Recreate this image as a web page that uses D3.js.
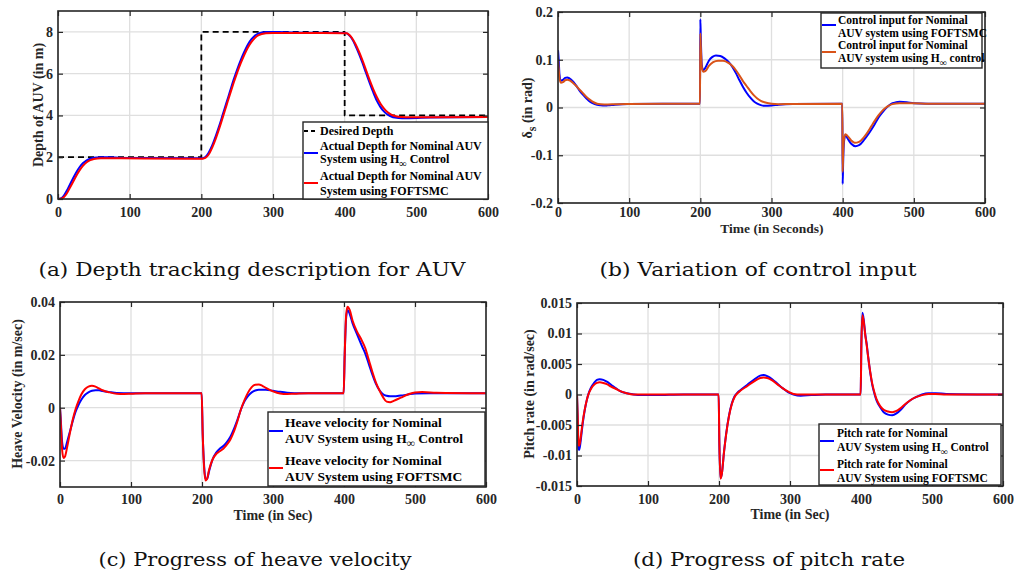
<!DOCTYPE html>
<html><head><meta charset="utf-8">
<script src="https://cdn.jsdelivr.net/npm/d3@7"></script>
<style>body{margin:0;background:#fff}svg{display:block}</style>
</head><body><svg id="c" width="1014" height="573"></svg>
<script>
// ---------- data ----------
const xTicks=[0,100,200,300,400,500,600];
const xTickLabels=["0","100","200","300","400","500","600"];

const depthTicks=[0,2,4,6,8];
const depthTickLabels=["0","2","4","6","8"];
const ctrlTicks=[-0.2,-0.1,0,0.1,0.2];
const ctrlTickLabels=["-0.2","-0.1","0","0.1","0.2"];
const heaveTicks=[-0.02,0,0.02,0.04];
const heaveTickLabels=["-0.02","0","0.02","0.04"];
const pitchTicks=[-0.015,-0.01,-0.005,0,0.005,0.01,0.015];
const pitchTickLabels=["-0.015","-0.01","-0.005","0","0.005","0.01","0.015"];

const desiredDepth=[[0,2],[200,2],[200,8],[400,8],[400,4],[600,4]];
const depthHinf=[[0,0],[4,0.03],[8,0.15],[12,0.38],[16,0.65],[20,0.92],[25,1.25],[30,1.52],[35,1.72],[40,1.85],[45,1.93],[50,1.97],[60,2.0],[70,2.0],[85,1.98],[120,1.96],[200,1.95],[203,1.96],[206,2.02],[210,2.2],[215,2.55],[220,3.0],[225,3.5],[230,4.05],[235,4.6],[240,5.15],[245,5.7],[250,6.2],[255,6.65],[260,7.05],[265,7.4],[270,7.65],[275,7.83],[280,7.93],[290,7.99],[300,8.0],[315,7.98],[350,7.96],[400,7.95],[403,7.93],[406,7.85],[410,7.68],[415,7.35],[420,6.95],[425,6.5],[430,6.02],[435,5.55],[440,5.1],[445,4.7],[450,4.4],[455,4.18],[460,4.04],[465,3.95],[470,3.9],[480,3.87],[490,3.87],[520,3.9],[600,3.92]];
const depthFoftsmc=[[0,0],[4,0.01],[8,0.08],[12,0.25],[16,0.5],[20,0.75],[25,1.08],[30,1.37],[35,1.6],[40,1.76],[45,1.86],[50,1.92],[60,1.95],[80,1.95],[120,1.94],[200,1.93],[203,1.94],[206,1.98],[210,2.12],[215,2.45],[220,2.88],[225,3.38],[230,3.92],[235,4.47],[240,5.02],[245,5.55],[250,6.05],[255,6.5],[260,6.9],[265,7.25],[270,7.52],[275,7.72],[280,7.84],[290,7.93],[300,7.95],[350,7.95],[400,7.94],[403,7.93],[406,7.87],[410,7.72],[415,7.42],[420,7.05],[425,6.62],[430,6.15],[435,5.68],[440,5.25],[445,4.87],[450,4.56],[455,4.33],[460,4.15],[465,4.04],[470,3.97],[480,3.92],[490,3.91],[520,3.91],[600,3.92]];

const ctrlFoftsmc=[[0,0.12],[1,0.1],[2,0.07],[4,0.056],[7,0.058],[10,0.062],[13,0.063],[16,0.061],[20,0.056],[25,0.047],[30,0.036],[35,0.027],[40,0.019],[45,0.012],[50,0.008],[55,0.0055],[60,0.0045],[65,0.004],[70,0.0045],[80,0.006],[100,0.0075],[150,0.008],[199.5,0.008],[200,0.185],[200.6,0.15],[202,0.09],[204,0.078],[207,0.083],[212,0.098],[217,0.106],[222,0.109],[228,0.108],[234,0.103],[240,0.095],[245,0.085],[250,0.072],[255,0.057],[260,0.043],[265,0.031],[270,0.021],[275,0.013],[280,0.008],[285,0.005],[290,0.0035],[300,0.004],[310,0.006],[330,0.0075],[399.5,0.008],[400,-0.16],[400.6,-0.12],[402,-0.07],[404,-0.058],[407,-0.065],[412,-0.076],[418,-0.081],[423,-0.079],[430,-0.068],[435,-0.058],[440,-0.047],[445,-0.035],[450,-0.022],[455,-0.012],[460,-0.003],[465,0.004],[470,0.009],[475,0.011],[480,0.012],[490,0.011],[500,0.009],[520,0.008],[600,0.008]];
const ctrlHinf=[[0,0.1],[1,0.08],[2,0.062],[4,0.052],[7,0.053],[10,0.057],[13,0.058],[16,0.057],[20,0.053],[25,0.046],[30,0.038],[35,0.03],[40,0.022],[45,0.016],[50,0.011],[55,0.008],[60,0.007],[70,0.0065],[80,0.007],[100,0.0075],[150,0.008],[199.5,0.008],[200,0.155],[200.6,0.13],[202,0.085],[204,0.075],[207,0.076],[212,0.087],[218,0.095],[225,0.098],[232,0.098],[240,0.093],[245,0.087],[250,0.078],[255,0.067],[260,0.055],[265,0.045],[270,0.035],[275,0.026],[280,0.019],[285,0.014],[290,0.011],[300,0.008],[310,0.007],[330,0.0075],[399.5,0.008],[400,-0.135],[400.6,-0.1],[402,-0.065],[404,-0.056],[407,-0.06],[412,-0.069],[417,-0.074],[423,-0.072],[430,-0.062],[435,-0.052],[440,-0.04],[445,-0.028],[450,-0.017],[455,-0.008],[460,-0.001],[465,0.004],[470,0.007],[480,0.009],[500,0.009],[520,0.008],[600,0.008]];

const heaveHinf=[[0,0],[1,-0.004],[2,-0.009],[3,-0.013],[5,-0.0155],[7,-0.0155],[10,-0.013],[14,-0.009],[18,-0.005],[22,-0.0015],[26,0.001],[30,0.003],[35,0.0048],[40,0.0058],[45,0.0064],[50,0.0066],[55,0.0066],[60,0.0063],[70,0.0059],[80,0.0056],[100,0.0055],[199.5,0.0055],[201,-0.01],[203,-0.022],[205,-0.027],[207,-0.027],[210,-0.024],[215,-0.0195],[220,-0.017],[225,-0.0155],[230,-0.0145],[235,-0.013],[240,-0.011],[245,-0.008],[250,-0.0045],[255,-0.0005],[260,0.0025],[265,0.0045],[270,0.0058],[275,0.0065],[280,0.0068],[290,0.0068],[300,0.0064],[310,0.006],[320,0.0057],[340,0.0055],[399.5,0.0055],[401,0.02],[403,0.034],[405,0.037],[408,0.0355],[412,0.032],[418,0.028],[425,0.0235],[430,0.0205],[435,0.0165],[440,0.0125],[445,0.009],[450,0.0066],[455,0.0051],[460,0.0045],[465,0.0043],[470,0.0043],[480,0.0046],[490,0.005],[500,0.0054],[520,0.0055],[600,0.0055]];
const heaveFoftsmc=[[0,0],[1,-0.005],[2,-0.011],[3,-0.016],[5,-0.019],[7,-0.0185],[10,-0.015],[14,-0.0095],[18,-0.0045],[22,-0.0005],[26,0.0025],[30,0.005],[35,0.007],[40,0.008],[45,0.0083],[50,0.008],[55,0.0073],[60,0.0066],[70,0.0058],[80,0.0053],[90,0.0052],[100,0.0053],[120,0.0055],[199.5,0.0055],[201,-0.01],[203,-0.023],[205,-0.0275],[207,-0.027],[210,-0.0235],[215,-0.0195],[220,-0.0175],[225,-0.0165],[230,-0.0155],[235,-0.014],[240,-0.012],[245,-0.009],[250,-0.005],[255,-0.0005],[260,0.003],[265,0.0058],[270,0.0078],[275,0.0087],[280,0.0088],[285,0.0083],[290,0.0075],[300,0.0062],[310,0.0054],[320,0.0052],[330,0.0053],[350,0.0055],[399.5,0.0055],[401,0.02],[403,0.035],[405,0.0382],[408,0.037],[412,0.033],[418,0.029],[425,0.0255],[430,0.0225],[435,0.018],[440,0.0135],[445,0.0095],[450,0.0065],[455,0.004],[460,0.0023],[465,0.0021],[470,0.0026],[480,0.0038],[490,0.005],[500,0.0058],[510,0.0059],[530,0.0057],[600,0.0055]];

const pitchHinf=[[0,0],[1,-0.0045],[2,-0.0088],[3,-0.0091],[4,-0.0086],[6,-0.0068],[8,-0.0048],[11,-0.0025],[14,-0.0008],[17,0.0004],[20,0.0012],[24,0.0019],[28,0.0024],[32,0.0025],[37,0.0024],[42,0.0021],[48,0.0016],[55,0.001],[60,0.0006],[70,0.0002],[80,0.0],[90,-0.0001],[110,-0.0001],[150,0],[199.5,0],[200.5,-0.008],[202,-0.0137],[204,-0.013],[207,-0.0095],[210,-0.0065],[214,-0.0035],[218,-0.0015],[222,-0.0003],[226,0.0003],[230,0.0007],[240,0.0016],[250,0.0025],[258,0.0031],[263,0.0032],[268,0.003],[275,0.0025],[282,0.0018],[290,0.001],[297,0.0004],[305,0.0],[315,-0.0002],[330,-0.0001],[350,0],[399.5,0],[400.5,0.008],[402,0.0134],[404,0.0121],[406,0.0099],[408,0.0083],[410,0.0063],[413,0.0036],[416,0.0015],[419,0.0001],[422,-0.001],[427,-0.0021],[432,-0.0029],[438,-0.0033],[444,-0.0034],[450,-0.0031],[456,-0.0025],[462,-0.0017],[470,-0.0009],[478,-0.0004],[486,0.0],[495,0.0002],[505,0.0002],[520,0.0001],[600,0]];
const pitchFoftsmc=[[0,0],[1,-0.0035],[2,-0.0078],[3,-0.0084],[4,-0.008],[6,-0.0063],[8,-0.0045],[11,-0.0024],[14,-0.0008],[17,0.0003],[20,0.001],[24,0.0016],[28,0.0019],[32,0.002],[37,0.0019],[42,0.0017],[48,0.0013],[55,0.0009],[60,0.0006],[70,0.0002],[80,0.0],[100,0],[199.5,0],[200.5,-0.008],[202,-0.0138],[204,-0.013],[207,-0.0095],[210,-0.0066],[214,-0.0036],[218,-0.0016],[222,-0.0004],[226,0.0002],[230,0.0006],[240,0.0014],[250,0.0022],[258,0.0027],[263,0.0028],[268,0.0027],[275,0.0023],[282,0.0017],[290,0.001],[297,0.0005],[305,0.0001],[315,0],[350,0],[399.5,0],[400.5,0.008],[402,0.013],[404,0.0118],[406,0.0097],[408,0.0081],[410,0.0062],[413,0.0037],[416,0.0017],[419,0.0003],[422,-0.0008],[427,-0.0019],[432,-0.0025],[438,-0.0028],[444,-0.0029],[450,-0.0027],[456,-0.0022],[462,-0.0016],[470,-0.0009],[478,-0.0004],[486,-0.0001],[495,0.0001],[505,0.0001],[520,0],[600,0]];

const captions=["(a) Depth tracking description for AUV","(b) Variation of control input","(c) Progress of heave velocity","(d) Progress of pitch rate"];

// ---------- drawing ----------
const svg=d3.select('#c');
const TICKFONT='"Liberation Serif","Times New Roman",serif';
const FRAME='#262626';
let clipN=0;

function panel(cfg){
  const x=d3.scaleLinear().domain([0,600]).range([cfg.x0,cfg.x1]);
  const y=d3.scaleLinear().domain(cfg.ydom).range([cfg.y1,cfg.y0]);
  const g=svg.append('g');
  g.append('g').selectAll('line').data(xTicks).join('line')
    .attr('x1',d=>x(d)).attr('x2',d=>x(d)).attr('y1',cfg.y0).attr('y2',cfg.y1)
    .attr('stroke','#dfdfdf').attr('stroke-width',1.3);
  g.append('g').selectAll('line').data(cfg.yticks).join('line')
    .attr('y1',d=>y(d)).attr('y2',d=>y(d)).attr('x1',cfg.x0).attr('x2',cfg.x1)
    .attr('stroke','#dfdfdf').attr('stroke-width',1.3);
  const id='clip'+(clipN++);
  svg.append('clipPath').attr('id',id).append('rect')
    .attr('x',cfg.x0).attr('y',cfg.y0).attr('width',cfg.x1-cfg.x0).attr('height',cfg.y1-cfg.y0);
  const sg=g.append('g').attr('clip-path',`url(#${id})`);
  cfg.series.forEach(s=>{
    const line=d3.line().x(d=>x(d[0])).y(d=>y(d[1]))
      .curve(s.linear?d3.curveLinear:d3.curveMonotoneX);
    sg.append('path').datum(s.data).attr('d',line).attr('fill','none')
      .attr('stroke',s.color).attr('stroke-width',s.width||2)
      .attr('stroke-dasharray',s.dash||null).attr('stroke-linejoin','round');
  });
  const style=a=>{a.select('.domain').remove();
    a.selectAll('line').attr('stroke',FRAME).attr('stroke-width',1.2);
    a.selectAll('text').attr('font-family',TICKFONT).attr('font-weight','bold')
      .attr('font-size',14).attr('fill',FRAME);};
  g.append('g').attr('transform',`translate(0,${cfg.y1})`)
    .call(d3.axisBottom(x).tickValues(xTicks).tickFormat((d,i)=>xTickLabels[i])
      .tickSizeInner(-5).tickSizeOuter(0).tickPadding(cfg.xpad)).call(style);
  g.append('g').attr('transform',`translate(0,${cfg.y0})`)
    .call(d3.axisTop(x).tickValues(xTicks).tickFormat('').tickSizeInner(-5).tickSizeOuter(0)).call(style);
  g.append('g').attr('transform',`translate(${cfg.x0},0)`)
    .call(d3.axisLeft(y).tickValues(cfg.yticks).tickFormat((d,i)=>cfg.ylabels[i])
      .tickSizeInner(-5).tickSizeOuter(0).tickPadding(5)).call(style);
  g.append('g').attr('transform',`translate(${cfg.x1},0)`)
    .call(d3.axisRight(y).tickValues(cfg.yticks).tickFormat('').tickSizeInner(-5).tickSizeOuter(0)).call(style);
  g.append('rect').attr('x',cfg.x0).attr('y',cfg.y0).attr('width',cfg.x1-cfg.x0).attr('height',cfg.y1-cfg.y0)
    .attr('fill','none').attr('stroke',FRAME).attr('stroke-width',1.6);
  return {x,y,g};
}

function addText(parent,x,y,parts,size,opts={}){
  const t=parent.append('text').attr('x',x).attr('y',y)
    .attr('font-family',TICKFONT).attr('font-weight','bold').attr('font-size',size).attr('fill',opts.fill||'#000');
  if(opts.anchor)t.attr('text-anchor',opts.anchor);
  if(opts.rotate)t.attr('transform',`rotate(-90,${x},${y})`);
  parts.forEach(p=>{
    const s=t.append('tspan').text(p.t);
    if(p.sub){s.attr('dy',p.sub).attr('font-size',size*0.85);}
    if(p.back){s.attr('dy',p.back);}
  });
  return t;
}

function legend(box,entries,size){
  const g=svg.append('g');
  g.append('rect').attr('x',box.x).attr('y',box.y).attr('width',box.w).attr('height',box.h)
    .attr('fill','#fff').attr('stroke',FRAME).attr('stroke-width',1.4);
  entries.forEach(e=>{
    if(e.line){
      g.append('line').attr('x1',e.line.x1).attr('x2',e.line.x2).attr('y1',e.line.y).attr('y2',e.line.y)
        .attr('stroke',e.line.color).attr('stroke-width',2).attr('stroke-dasharray',e.line.dash||null);
    }
    (e.rows||[]).forEach(r=>addText(g,r.x,r.y,r.parts,size));
  });
}

// Panel A
panel({x0:58,x1:488,y0:11,y1:199,ydom:[0,9],yticks:depthTicks,ylabels:depthTickLabels,xpad:8,
  series:[{data:desiredDepth,color:'#000',linear:true,dash:'6,4',width:1.8},
          {data:depthHinf,color:'#0000ff'},{data:depthFoftsmc,color:'#ff0000'}]});
addText(svg,43,105,[{t:'Depth of AUV (in m)'}],14,{anchor:'middle',rotate:true,fill:FRAME});
legend({x:303,y:122,w:185,h:77},[
  {line:{x1:304,x2:318,y:131,color:'#000',dash:'4,3'},rows:[{x:320,y:135,parts:[{t:'Desired Depth'}]}]},
  {line:{x1:304,x2:318,y:153,color:'#0000ff'},rows:[{x:320,y:150,parts:[{t:'Actual Depth for Nominal AUV'}]},
     {x:320,y:163,parts:[{t:'System using H'},{t:'∞',sub:4},{t:' Control',back:-4}]}]},
  {line:{x1:304,x2:318,y:183,color:'#ff0000'},rows:[{x:320,y:180,parts:[{t:'Actual Depth for Nominal AUV'}]},
     {x:320,y:195,parts:[{t:'System using FOFTSMC'}]}]}
],12);

// Panel B
panel({x0:558,x1:985,y0:12,y1:203,ydom:[-0.2,0.2],yticks:ctrlTicks,ylabels:ctrlTickLabels,xpad:4,
  series:[{data:ctrlFoftsmc,color:'#0000ff'},{data:ctrlHinf,color:'#D95319'}]});
addText(svg,532,108,[{t:'δ'},{t:'s',sub:4},{t:' (in rad)',back:-4}],14,{anchor:'middle',rotate:true,fill:FRAME});
addText(svg,772,233,[{t:'Time (in Seconds)'}],13.5,{anchor:'middle',fill:FRAME});
legend({x:821,y:13,w:161,h:55},[
  {line:{x1:822,x2:836,y:25,color:'#0000ff'},rows:[{x:838,y:24,parts:[{t:'Control input for Nominal'}]},
     {x:838,y:37,parts:[{t:'AUV system using FOFTSMC'}]}]},
  {line:{x1:822,x2:836,y:52,color:'#D95319'},rows:[{x:838,y:49,parts:[{t:'Control input for Nominal'}]},
     {x:838,y:62,parts:[{t:'AUV system using H'},{t:'∞',sub:4},{t:' control',back:-4}]}]}
],11.5);

// Panel C
panel({x0:60,x1:486,y0:302,y1:487,ydom:[-0.03,0.04],yticks:heaveTicks,ylabels:heaveTickLabels,xpad:7,
  series:[{data:heaveHinf,color:'#0000ff'},{data:heaveFoftsmc,color:'#ff0000'}]});
addText(svg,22,394,[{t:'Heave Velocity (in m/sec)'}],14,{anchor:'middle',rotate:true,fill:FRAME});
addText(svg,273,520,[{t:'Time (in Sec)'}],14,{anchor:'middle',fill:FRAME});
legend({x:268,y:412,w:217,h:74},[
  {line:{x1:269,x2:283,y:431,color:'#0000ff'},rows:[{x:285,y:427,parts:[{t:'Heave velocity for Nominal'}]},
     {x:285,y:443,parts:[{t:'AUV System using H'},{t:'∞',sub:4},{t:' Control',back:-4}]}]},
  {line:{x1:269,x2:283,y:468,color:'#ff0000'},rows:[{x:285,y:465,parts:[{t:'Heave velocity for Nominal'}]},
     {x:285,y:481,parts:[{t:'AUV System using FOFTSMC'}]}]}
],13.5);

// Panel D
panel({x0:577,x1:1003,y0:303,y1:486,ydom:[-0.015,0.015],yticks:pitchTicks,ylabels:pitchTickLabels,xpad:8,
  series:[{data:pitchHinf,color:'#0000ff'},{data:pitchFoftsmc,color:'#ff0000'}]});
addText(svg,534,394,[{t:'Pitch rate (in rad/sec)'}],14,{anchor:'middle',rotate:true,fill:FRAME});
addText(svg,790,519,[{t:'Time (in Sec)'}],14,{anchor:'middle',fill:FRAME});
legend({x:819,y:424,w:182,h:61},[
  {line:{x1:820,x2:834,y:441,color:'#0000ff'},rows:[{x:837,y:437,parts:[{t:'Pitch rate for Nominal'}]},
     {x:837,y:451,parts:[{t:'AUV System using H'},{t:'∞',sub:4},{t:' Control',back:-4}]}]},
  {line:{x1:820,x2:834,y:470,color:'#ff0000'},rows:[{x:837,y:468,parts:[{t:'Pitch rate for Nominal'}]},
     {x:837,y:482,parts:[{t:'AUV System using FOFTSMC'}]}]}
],11.5);

// Captions
const capPos=[[252,276,427],[758,276,317],[255,566,313],[769,566,272]];
captions.forEach((c,i)=>{
  svg.append('text').attr('x',capPos[i][0]).attr('y',capPos[i][1]).attr('text-anchor','middle')
    .attr('font-family','"DejaVu Serif",serif').attr('font-size',19).attr('fill','#111')
    .attr('textLength',capPos[i][2]).attr('lengthAdjust','spacingAndGlyphs').text(c);
});
</script></body></html>
